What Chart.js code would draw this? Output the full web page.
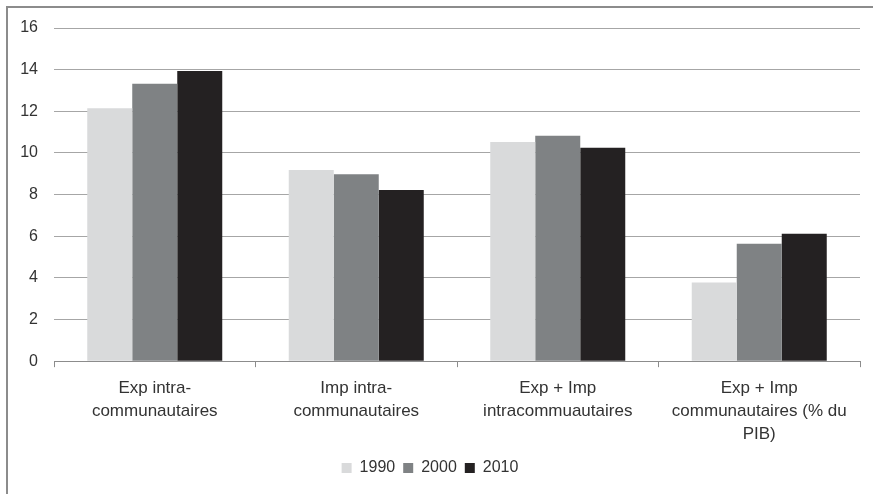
<!DOCTYPE html>
<html>
<head>
<meta charset="utf-8">
<script src="https://cdn.jsdelivr.net/npm/chart.js@4/dist/chart.umd.min.js"></script>
<style>
  body { margin: 0; background: #fff; }
  #wrap { width: 873px; height: 494px; position: relative; }
</style>
</head>
<body>
<div id="wrap"><canvas id="myChart"></canvas></div>
<script>
const categories = [
  ["Exp intra-", "communautaires"],
  ["Imp intra-", "communautaires"],
  ["Exp + Imp", "intracommuautaires"],
  ["Exp + Imp", "communautaires (% du", "PIB)"],
];
const years = ["1990", "2000", "2010"];
const values1990 = [12.15, 9.18, 10.53, 3.78];
const values2000 = [13.32, 8.98, 10.83, 5.64];
const values2010 = [13.94, 8.22, 10.25, 6.12];
const colors = ["#d9dadb", "#7f8284", "#242122"];

const borderPlugin = {
  id: "borderPlugin",
  beforeDraw(chart) {
    const { ctx } = chart;
    ctx.save();
    ctx.strokeStyle = "#8c8c8c";
    ctx.lineWidth = 2;
    ctx.strokeRect(7, 7, 900, 600);
    ctx.restore();
  },
};

const font = "'Liberation Sans', Arial, sans-serif";

new Chart(document.getElementById("myChart"), {
  type: "bar",
  data: {
    labels: categories,
    datasets: [values1990, values2000, values2010].map((d, i) => ({
      label: years[i],
      data: d,
      backgroundColor: colors[i],
      borderWidth: 0,
      categoryPercentage: 0.67,
      barPercentage: 1.0,
    })),
  },
  options: {
    responsive: true,
    maintainAspectRatio: false,
    animation: false,
    layout: {
      padding: { top: 28, left: 0, right: 13, bottom: 8 },
    },
    plugins: {
      legend: {
        position: "bottom",
        labels: {
          boxWidth: 10,
          boxHeight: 10,
          padding: 8,
          color: "#333",
          font: { family: font, size: 16 },
        },
      },
      tooltip: { enabled: false },
    },
    scales: {
      x: {
        afterFit(scale) {
          scale.height -= 4;
        },
        grid: {
          drawOnChartArea: false,
          drawTicks: true,
          tickLength: 6,
          color: "#8c8c8c",
        },
        border: { color: "#8c8c8c", width: 1 },
        ticks: {
          maxRotation: 0,
          padding: 10,
          color: "#333",
          font: { family: font, size: 17, lineHeight: 1.35 },
        },
      },
      y: {
        min: 0,
        max: 16,
        afterFit(scale) {
          scale.width = 54;
        },
        border: { display: false },
        grid: {
          color: "#a6a6a6",
          drawTicks: false,
        },
        ticks: {
          stepSize: 2,
          padding: 16,
          color: "#333",
          font: { family: font, size: 16 },
        },
      },
    },
  },
  plugins: [borderPlugin],
});
</script>
</body>
</html>
